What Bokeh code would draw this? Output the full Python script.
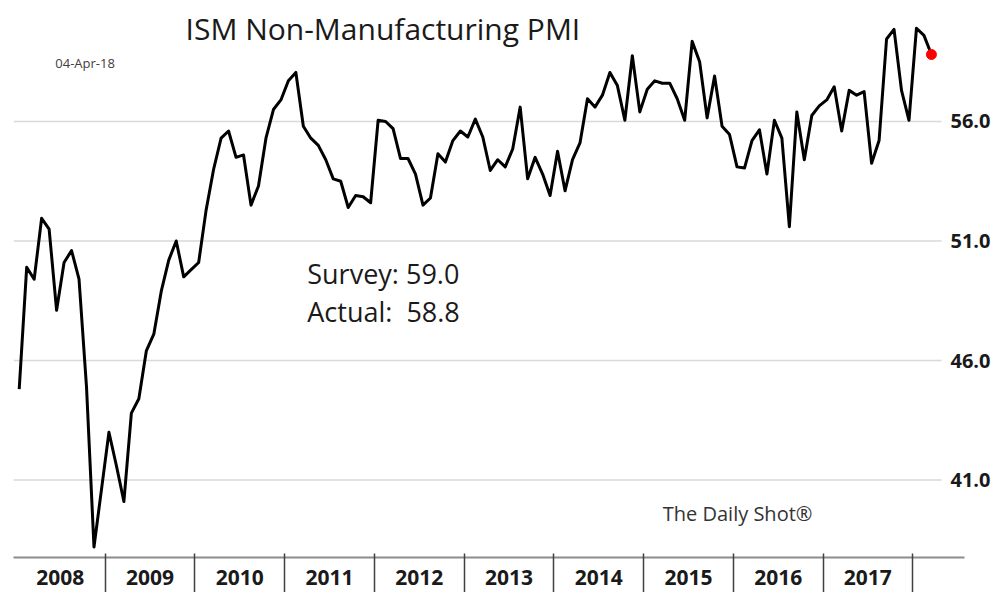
from bokeh.plotting import figure
from bokeh.models import Range1d, FixedTicker, PrintfTickFormatter, CustomJSTickFormatter
from bokeh.embed import file_html
from bokeh.resources import INLINE
from bokeh.core.properties import value

# ---------------- data ----------------
start_year = 2008
pmi_2008 = [44.8, 49.9, 49.4, 51.95, 51.5, 48.1, 50.1, 50.6, 49.4, 44.9, 38.2, 40.6]
pmi_2009 = [43.0, 41.6, 40.1, 43.8, 44.4, 46.4, 47.1, 48.9, 50.2, 51.0, 49.5, 49.8]
pmi_2010 = [50.1, 52.3, 54.0, 55.3, 55.6, 54.5, 54.6, 52.5, 53.3, 55.3, 56.5, 56.9]
pmi_2011 = [57.7, 58.05, 55.8, 55.3, 55.0, 54.4, 53.6, 53.5, 52.4, 52.9, 52.85, 52.6]
pmi_2012 = [56.05, 56.0, 55.7, 54.45, 54.45, 53.8, 52.5, 52.8, 54.65, 54.3, 55.2, 55.6]
pmi_2013 = [55.35, 56.1, 55.35, 53.95, 54.4, 54.1, 54.85, 56.6, 53.6, 54.5, 53.8, 52.9]
pmi_2014 = [54.75, 53.1, 54.4, 55.1, 56.95, 56.6, 57.1, 58.05, 57.5, 56.05, 58.75, 56.4]
pmi_2015 = [57.35, 57.7, 57.6, 57.6, 56.95, 56.05, 59.35, 58.5, 56.15, 57.9, 55.8, 55.45]
pmi_2016 = [54.1, 54.05, 55.2, 55.65, 53.8, 56.05, 55.3, 51.6, 56.4, 54.4, 56.25, 56.65]
pmi_2017 = [56.9, 57.45, 55.6, 57.3, 57.1, 57.25, 54.25, 55.2, 59.45, 59.85, 57.3, 56.05]
pmi_2018 = [59.9, 59.6, 58.8]

pmi = (pmi_2008 + pmi_2009 + pmi_2010 + pmi_2011 + pmi_2012 + pmi_2013 +
       pmi_2014 + pmi_2015 + pmi_2016 + pmi_2017 + pmi_2018)

year_labels = [2008, 2009, 2010, 2011, 2012, 2013, 2014, 2015, 2016, 2017]
year_boundaries = [2009, 2010, 2011, 2012, 2013, 2014, 2015, 2016, 2017, 2018]
y_ticks = [41.0, 46.0, 51.0, 56.0]

title_text = "ISM Non-Manufacturing PMI"
date_text = "04-Apr-18"
survey_text = "Survey: 59.0"
actual_text = "Actual:\u00a0 58.8"
source_text = "The Daily Shot\u00ae"

# monthly points at month mid-points
x = [start_year + (i + 0.5) / 12.0 for i in range(len(pmi))]
label_pos = [y + 0.5 for y in year_labels]

X0, X1 = 2007.978, 2018.577
Y0, Y1 = 37.76, 61.06
GRID_END = 2018.322

p = figure(width=993, height=592, output_backend="svg", toolbar_location=None,
           x_range=Range1d(X0, X1), y_range=Range1d(Y0, Y1),
           y_axis_location="right",
           min_border_left=13, min_border_right=25, min_border_top=0,
           min_border_bottom=35)
p.outline_line_color = None
p.background_fill_color = "white"
p.border_fill_color = "white"
p.xgrid.visible = False
p.ygrid.visible = False

# x axis: labels at year mid-points, separators as minor ticks at boundaries
xa = p.xaxis[0]
xa.ticker = FixedTicker(ticks=label_pos, minor_ticks=year_boundaries)
xa.formatter = CustomJSTickFormatter(code="return Math.floor(tick).toString();")
xa.axis_line_color = "#8c8c8c"
xa.axis_line_width = 2
xa.major_tick_line_color = None
xa.major_tick_in = 0
xa.major_tick_out = 0
xa.minor_tick_line_color = "#404040"
xa.minor_tick_line_width = 1.5
xa.minor_tick_in = 4
xa.minor_tick_out = 36
xa.major_label_text_font = "Open Sans"
xa.major_label_text_font_style = "bold"
xa.major_label_text_font_size = "21px"
xa.major_label_text_color = "#1a1a1a"
xa.major_label_standoff = -24

# y axis on the right
ya = p.yaxis[0]
ya.ticker = FixedTicker(ticks=y_ticks)
ya.formatter = PrintfTickFormatter(format="%.1f")
ya.axis_line_color = None
ya.major_tick_line_color = None
ya.minor_tick_line_color = None
ya.major_label_standoff = -20
ya.major_label_text_font = "Open Sans"
ya.major_label_text_font_style = "bold"
ya.major_label_text_font_size = "20px"
ya.major_label_text_color = "#1a1a1a"

# horizontal gridlines
p.segment(x0=[X0] * len(y_ticks), x1=[GRID_END] * len(y_ticks), y0=y_ticks, y1=y_ticks,
          line_color="#d9d9d9", line_width=1.5)

# series
p.line(x, pmi, line_color="black", line_width=3, line_join="round")
p.scatter([x[-1]], [pmi[-1]], size=10, color="#ff0000")

# texts
p.text(x=[2012.095], y=[59.89], text=[title_text], text_font=value("Open Sans"),
       text_font_size="30px", text_align="center", text_baseline="alphabetic",
       text_color="#1a1a1a")
p.text(x=[2008.444], y=[58.46], text=[date_text], text_font=value("Open Sans"),
       text_font_size="13px", text_align="left", text_baseline="middle",
       text_color="#404040")
p.text(x=[2011.252, 2011.252], y=[49.63, 48.07], text=[survey_text, actual_text],
       text_font=value("Open Sans"), text_font_size="27px", text_align="left",
       text_baseline="alphabetic", text_color="#1a1a1a")
p.text(x=[2015.214], y=[39.58], text=[source_text], text_font=value("Open Sans"),
       text_font_size="20px", text_align="left", text_baseline="alphabetic",
       text_color="#333333")

open("out.html", "w").write(file_html(p, INLINE))
